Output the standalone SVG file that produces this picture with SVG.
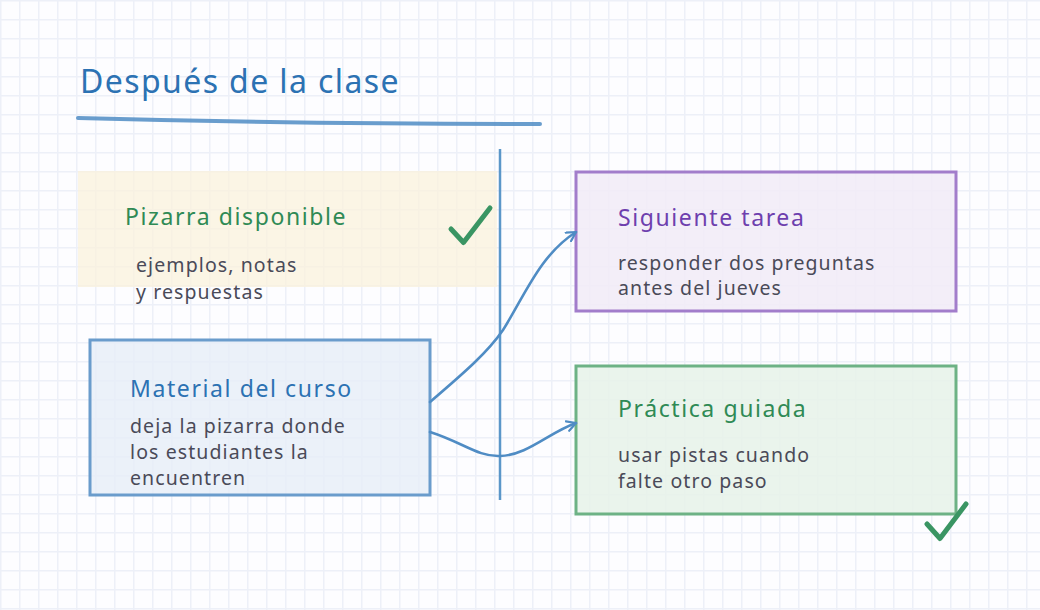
<svg xmlns="http://www.w3.org/2000/svg" width="1040" height="610" viewBox="0 0 1040 610">
<defs>
<pattern id="grid" x="0" y="0" width="19" height="19" patternUnits="userSpaceOnUse">
<path d="M0 0 H19 M0 0 V19" fill="none" stroke="#edf0f8" stroke-width="3"/>
</pattern>
<marker id="arr" viewBox="0 0 12 12" refX="10" refY="6" markerWidth="12" markerHeight="12" markerUnits="userSpaceOnUse" orient="auto">
<path d="M1 1 L10 6 L1 11" fill="none" stroke="#4f8cc4" stroke-width="2.2" stroke-linecap="round" stroke-linejoin="round"/>
</marker>
</defs>
<style>
text { font-family: "Noto Sans", "Liberation Sans", sans-serif; }
.title { font-size: 32px; fill: #2c72b3; letter-spacing: 1.4px; }
.head { font-size: 23px; letter-spacing: 1.6px; }
.body { font-size: 19.5px; fill: #4a4a58; letter-spacing: 1.1px; }
.green { fill: #2f8a55; }
.blue { fill: #2c72b3; }
.purple { fill: #6e3fae; }
.check { fill: none; stroke: #3a9563; stroke-width: 5; stroke-linecap: round; stroke-linejoin: round; }
.conn { fill: none; stroke: #4f8cc4; stroke-width: 2.6; stroke-linecap: round; }
</style>
<rect width="1040" height="610" fill="#fdfdff"/>
<rect width="1040" height="610" fill="url(#grid)"/>

<g id="title">
<text class="title" x="80" y="93">Después de la clase</text>
<path d="M78 118 Q 300 124 540 124" fill="none" stroke="#4f8cc4" stroke-opacity="0.85" stroke-width="4" stroke-linecap="round"/>
</g>

<g id="divider">
<line x1="500" y1="149" x2="500" y2="500" stroke="#5b97c9" stroke-width="2.5"/>
</g>

<g id="pizarra">
<rect x="78" y="171" width="419" height="116" fill="#faf2dc" fill-opacity="0.75"/>
<text class="head green" x="125" y="225">Pizarra disponible</text>
<text class="body" x="136" y="272">ejemplos, notas</text>
<text class="body" x="136" y="299">y respuestas</text>
<path class="check" d="M451 229 L463.5 242.5 L490 208"/>
</g>

<g id="material">
<rect x="90" y="340" width="340" height="155" fill="#e6eef8" fill-opacity="0.8" stroke="#6a9ccc" stroke-width="3"/>
<text class="head blue" x="130" y="397">Material del curso</text>
<text class="body" x="130" y="433">deja la pizarra donde</text>
<text class="body" x="130" y="459">los estudiantes la</text>
<text class="body" x="130" y="485">encuentren</text>
</g>

<g id="siguiente">
<rect x="576" y="172" width="380" height="139" fill="#f1ebf7" fill-opacity="0.85" stroke="#a27dcb" stroke-width="3"/>
<text class="head purple" x="618" y="226">Siguiente tarea</text>
<text class="body" x="618" y="270">responder dos preguntas</text>
<text class="body" x="618" y="295">antes del jueves</text>
</g>

<g id="practica">
<rect x="576" y="366" width="380" height="148" fill="#e6f2e9" fill-opacity="0.85" stroke="#6db285" stroke-width="3"/>
<text class="head green" x="618" y="417">Práctica guiada</text>
<text class="body" x="618" y="462">usar pistas cuando</text>
<text class="body" x="618" y="488">falte otro paso</text>
<path class="check" d="M927 524 L940 538.5 L966 504"/>
</g>

<g id="connectors">
<path class="conn" marker-end="url(#arr)" d="M430 402 C 465 372, 488 352, 503 330 C 525 295, 540 255, 576 232"/>
<path class="conn" marker-end="url(#arr)" d="M430 432 C 462 442, 478 457, 500 456 C 528 455, 548 433, 576 423"/>
</g>
</svg>
